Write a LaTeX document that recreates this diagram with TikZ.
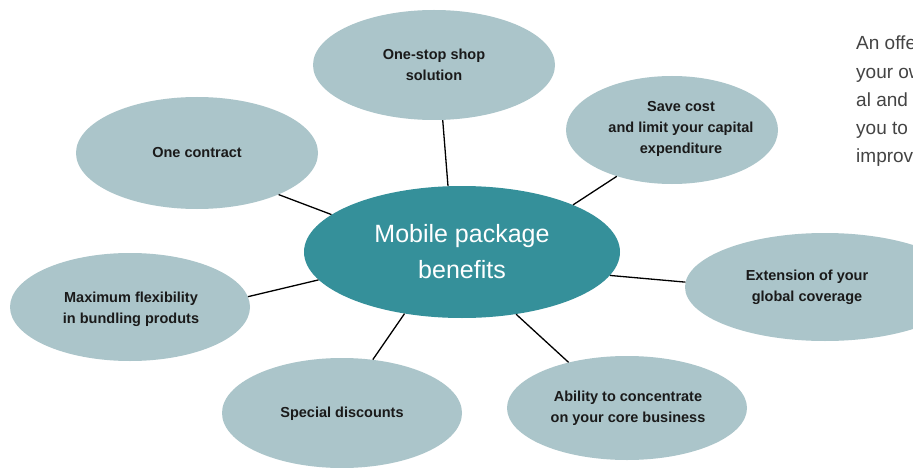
\documentclass[tikz,border=0pt]{standalone}
\usepackage{fontspec}
\setmainfont{Liberation Sans}
\usetikzlibrary{shapes.geometric}
\definecolor{outerfill}{HTML}{ABC5CA}
\definecolor{mainfill}{HTML}{35909A}
\definecolor{labeltext}{HTML}{1A1A1A}
\definecolor{sidetext}{HTML}{444444}
\tikzset{
  outerell/.style={ellipse, fill=outerfill, draw=none, inner sep=0pt},
  lbl/.style={align=center, text=labeltext, font=\fontsize{14.5}{21}\selectfont\bfseries},
  mainell/.style={ellipse, fill=mainfill, draw=none, inner sep=0pt, minimum width=316pt, minimum height=132pt},
  mainlbl/.style={align=center, text=white, font=\fontsize{25}{36}\selectfont},
  side/.style={anchor=base west, inner sep=0pt, text=sidetext, font=\fontsize{19}{28}\selectfont},
  conn/.style={draw=black, line width=1.3pt}
}
\begin{document}
\begin{tikzpicture}[x=1pt,y=-1pt]
\clip (0,0) rectangle (913,468);
\fill[white] (0,0) rectangle (913,468);

% outer ellipses
\node[outerell, minimum width=242pt, minimum height=110pt] (onestop) at (434,65) {};
\node[outerell, minimum width=212pt, minimum height=108pt] (savecost) at (672,130) {};
\node[outerell, minimum width=242pt, minimum height=112pt] (onecontract) at (197,153) {};
\node[outerell, minimum width=280pt, minimum height=108pt] (extension) at (825,287) {};
\node[outerell, minimum width=240pt, minimum height=108pt] (maxflex) at (130,307) {};
\node[outerell, minimum width=240pt, minimum height=110pt] (discounts) at (342,413) {};
\node[outerell, minimum width=240pt, minimum height=104pt] (ability) at (627,408) {};

% centre ellipse
\node[mainell] (main) at (462,252) {};

% connectors
\draw[conn] (main.102.8) -- (onestop.279.3);
\draw[conn] (main.23.2) -- (savecost.220);
\draw[conn] (main.164.3) -- (onecontract.333.7);
\draw[conn] (main.351.5) -- (extension.178.4);
\draw[conn] (main.191.2) -- (maxflex.5.8);
\draw[conn] (main.227.8) -- (discounts.60.2);
\draw[conn] (main.311.9) -- (ability.142.6);

% labels
\node[mainlbl] (mainlabel) at (462,252) {Mobile package\\benefits};
\node[lbl] (onestoplabel) at (434,65) {One-stop shop\\solution};
\node[lbl] (savecostlabel) at (681,129) {Save cost\\and limit your capital\\expenditure};
\node[lbl] (onecontractlabel) at (197,153) {One contract};
\node[lbl] (extensionlabel) at (807,287) {Extension of your\\global coverage};
\node[lbl] (maxflexlabel) at (131,309) {Maximum flexibility\\in bundling produts};
\node[lbl] (discountslabel) at (342,414) {Special discounts};
\node[lbl] (abilitylabel) at (628,408) {Ability to concentrate\\on your core business};

% side text (cut off at the right edge, as in the reference)
\node[side] (side1) at (856,50) {An offe};
\node[side] (side2) at (856,78.5) {your ow};
\node[side] (side3) at (856,107) {al and};
\node[side] (side4) at (856,135) {you to};
\node[side] (side5) at (856,163) {improv};
\end{tikzpicture}
\end{document}
